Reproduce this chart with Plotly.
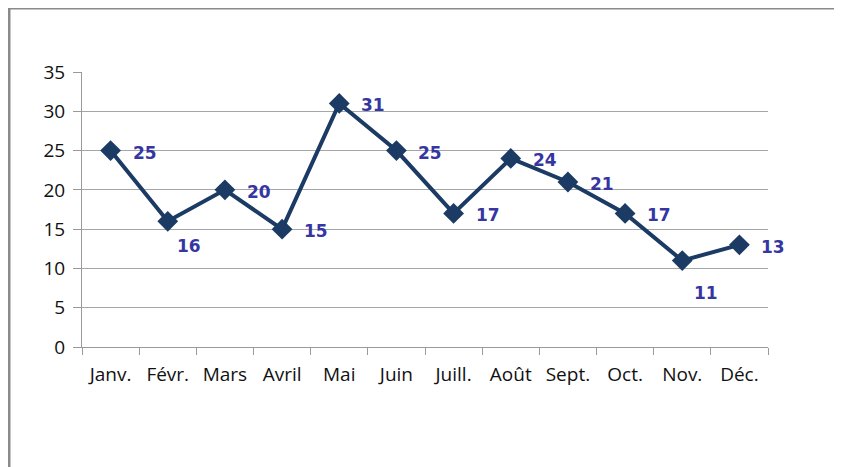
import plotly.graph_objects as go

months = ["Janv.", "Févr.", "Mars", "Avril", "Mai", "Juin",
          "Juill.", "Août", "Sept.", "Oct.", "Nov.", "Déc."]
values = [25, 16, 20, 15, 31, 25, 17, 24, 21, 17, 11, 13]

line_color = "#1b3a64"
label_color = "#3636a2"

# label offsets (px) for the few labels placed under their point
label_shift = {"Févr.": (21, -25), "Nov.": (24, -32)}

fig = go.Figure(
    go.Scatter(
        x=months,
        y=values,
        mode="lines+markers",
        line=dict(color=line_color, width=4),
        marker=dict(symbol="diamond", size=16, color=line_color),
        cliponaxis=False,
    )
)

for m, v in zip(months, values):
    xs, ys = label_shift.get(m, (34, -2))
    fig.add_annotation(
        x=m, y=v, text=f"<b>{v}</b>", showarrow=False,
        xshift=xs, yshift=ys,
        font=dict(family="DejaVu Sans, sans-serif", size=17, color=label_color),
    )

# outer frame (top and left edges visible, rest cut off)
fig.add_shape(type="line", xref="paper", yref="paper",
              x0=-0.1064, x1=1.2, y0=1.2327, y1=1.2327,
              line=dict(color="#8a8a8a", width=3))
fig.add_shape(type="line", xref="paper", yref="paper",
              x0=-0.1064, x1=-0.1064, y0=1.2327, y1=-0.5,
              line=dict(color="#8a8a8a", width=3))

fig.update_layout(
    width=834,
    height=459,
    margin=dict(l=74, r=74, t=64, b=120),
    paper_bgcolor="white",
    plot_bgcolor="white",
    showlegend=False,
    font=dict(family="Open Sans, sans-serif", size=19, color="#111111"),
)
fig.update_xaxes(
    type="category",
    showgrid=False,
    showline=True,
    linecolor="#9a9a9a",
    linewidth=1,
    ticks="outside",
    tickson="boundaries",
    ticklen=7,
    tickcolor="#9a9a9a",
    ticklabelstandoff=10,
    range=[-0.5, 11.5],
)
fig.update_yaxes(
    range=[0, 35],
    dtick=5,
    showgrid=True,
    gridcolor="#a6a6a6",
    gridwidth=1,
    showline=True,
    linecolor="#9a9a9a",
    linewidth=1,
    ticks="outside",
    ticklen=8,
    tickcolor="#9a9a9a",
    ticklabelstandoff=4,
    zeroline=False,
)

fig.write_html("out.html")
